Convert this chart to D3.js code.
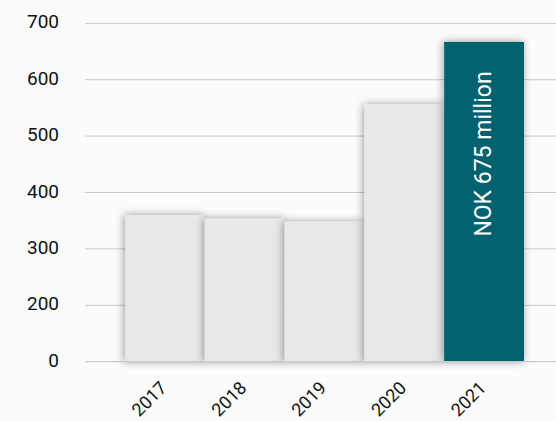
<!DOCTYPE html>
<html>
<head>
<meta charset="utf-8">
<script src="https://cdn.jsdelivr.net/npm/d3@7"></script>
<style>
  html, body { margin: 0; padding: 0; background: #fcfcfc; }
  svg { display: block; }
</style>
</head>
<body>
<div id="chart"></div>
<script>
// data
const years = ["2017", "2018", "2019", "2020", "2021"];
const revenue = [360, 354, 348, 556, 667];
const yTicks = [0, 200, 300, 400, 500, 600, 700];
const highlightLabel = "NOK 675 million";

const width = 556;
const height = 421;

const svg = d3.select("#chart")
  .append("svg")
  .attr("width", width)
  .attr("height", height);

const defs = svg.append("defs");
defs.append("filter")
  .attr("id", "shadow")
  .attr("x", "-30%").attr("y", "-30%")
  .attr("width", "160%").attr("height", "160%")
  .append("feDropShadow")
  .attr("dx", -1)
  .attr("dy", 0)
  .attr("stdDeviation", 4.5)
  .attr("flood-color", "#000")
  .attr("flood-opacity", 0.4);

const plotTop = 23.3;
const plotBottom = 361.7;
const step = (plotBottom - plotTop) / 6;

// axis skips 100: 0 and 200 sit one step apart
const y = d3.scaleLinear()
  .domain([0, 200, 700])
  .range([plotBottom, plotBottom - step, plotTop]);

const x = d3.scaleBand()
  .domain(years)
  .range([125, 524])
  .padding(0);

// gridlines
svg.append("g")
  .selectAll("line")
  .data(yTicks.filter(d => d !== 0))
  .join("line")
  .attr("x1", 85)
  .attr("x2", width)
  .attr("y1", d => y(d))
  .attr("y2", d => y(d))
  .attr("stroke", "#c9c9c9")
  .attr("stroke-width", 1);

// bars
svg.append("g")
  .selectAll("rect")
  .data(years.map((d, i) => ({ year: d, value: revenue[i] })))
  .join("rect")
  .attr("x", d => x(d.year))
  .attr("y", d => y(d.value))
  .attr("width", x.bandwidth())
  .attr("height", d => y(0) - y(d.value))
  .attr("fill", (d, i) => i === years.length - 1 ? "#04626e" : "#e8e8e8")
  .attr("filter", "url(#shadow)");

// baseline
svg.append("line")
  .attr("x1", 85)
  .attr("x2", width)
  .attr("y1", y(0))
  .attr("y2", y(0))
  .attr("stroke", "#c9c9c9")
  .attr("stroke-width", 1.2);

// y labels
svg.append("g")
  .selectAll("text")
  .data(yTicks)
  .join("text")
  .attr("x", 59)
  .attr("y", d => y(d) + 5)
  .attr("text-anchor", "end")
  .attr("font-family", "Roboto, sans-serif")
  .attr("font-size", "19px")
  .attr("fill", "#111")
  .text(d => d);

// x labels
svg.append("g")
  .selectAll("text")
  .data(years)
  .join("text")
  .attr("transform", d => `translate(${x(d) + x.bandwidth() / 2 + 3}, 389) rotate(-45)`)
  .attr("text-anchor", "end")
  .attr("font-family", "Roboto, sans-serif")
  .attr("font-size", "18px")
  .attr("fill", "#111")
  .text(d => d);

// label inside the highlighted bar
const last = years[years.length - 1];
svg.append("text")
  .attr("transform", `translate(${x(last) + x.bandwidth() / 2 + 7}, 154) rotate(-90)`)
  .attr("text-anchor", "middle")
  .attr("font-family", "Roboto, sans-serif")
  .attr("font-size", "23px")
  .attr("fill", "#ffffff")
  .text(highlightLabel);
</script>
</body>
</html>
